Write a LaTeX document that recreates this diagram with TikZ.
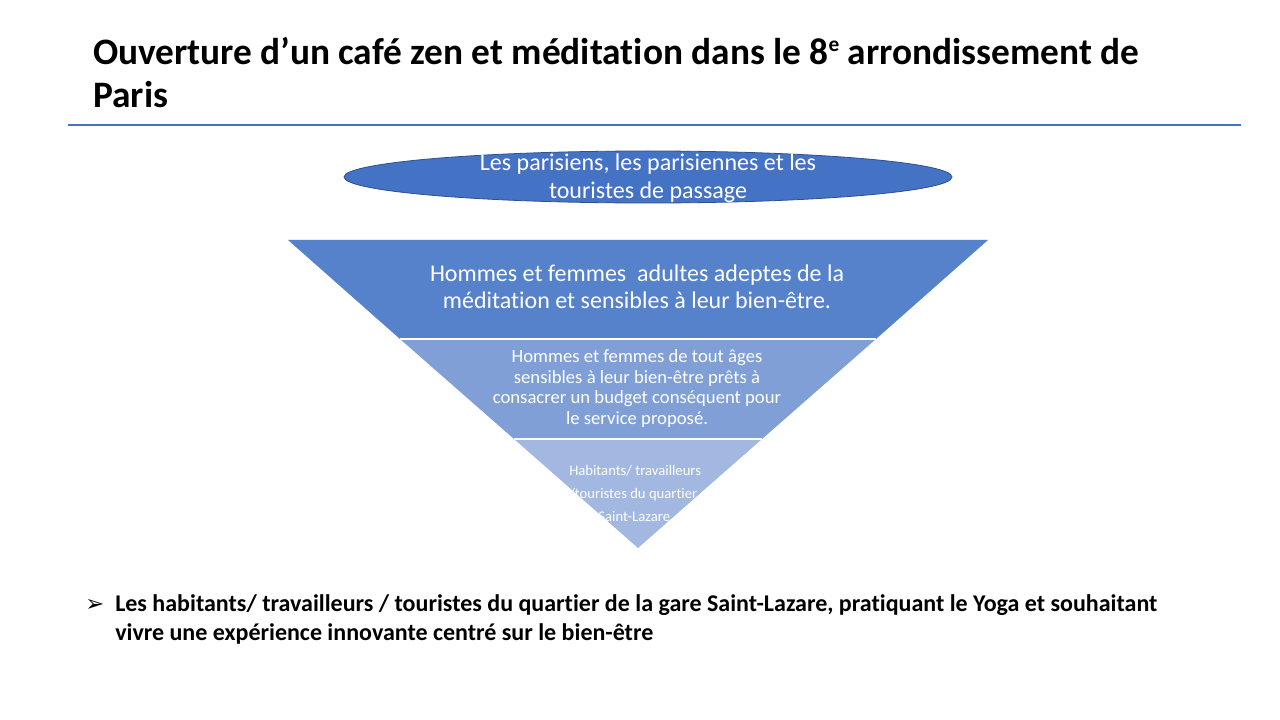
\documentclass[tikz,border=0pt]{standalone}
\usepackage{fontspec}
\usetikzlibrary{shapes.geometric}
\setmainfont[Ligatures=NoCommon]{Carlito}
\newfontfamily\dejavu{DejaVu Sans}
\definecolor{accent}{HTML}{4472C4}
\definecolor{accentdark}{HTML}{2F528F}
\definecolor{layerA}{HTML}{5681CB}
\definecolor{layerB}{HTML}{7F9FD6}
\definecolor{layerC}{HTML}{A2B8E1}
\newcommand{\mysup}[1]{\raisebox{10pt}{\fontsize{16}{16}\selectfont #1}}
\begin{document}
\begin{tikzpicture}[x=0.75pt,y=-0.75pt,
  titletext/.style={anchor=base west,inner sep=0pt,font=\fontsize{28}{32}\bfseries\selectfont},
  whitetext/.style={text=white,inner sep=0pt,align=center},
  bullettext/.style={anchor=base west,inner sep=0pt,font=\fontsize{18}{21}\bfseries\selectfont},
  layer/.style={draw=white,line width=1pt}]
\useasboundingbox[fill=white] (0,0) rectangle (1280,720);
% title
\node[titletext] (t1) at (93,65) {Ouverture d’un café zen et méditation dans le 8\mysup{e} arrondissement de};
\node[titletext] (t2) at (93,108) {Paris};
\coordinate (rl) at (68,125);
\coordinate (rr) at (1241,125);
\draw[accent,line width=1pt] (rl) -- (rr);
% ellipse
\node[ellipse,draw=accentdark,fill=accent,line width=0.6pt,minimum width=456pt,minimum height=39pt,inner sep=0pt] (ell) at (648,177) {};
\node[whitetext,anchor=base,font=\fontsize{18}{21}\selectfont] (ellt1) at (648,171) {Les parisiens, les parisiennes et les};
\node[whitetext,anchor=base,font=\fontsize{18}{21}\selectfont] (ellt2) at (648,199) {touristes de passage};
% funnel layers
\coordinate (a1) at (288,240); \coordinate (a2) at (988,240);
\coordinate (b1) at (400,339); \coordinate (b2) at (876,339);
\coordinate (c1) at (514,439); \coordinate (c2) at (762,439);
\coordinate (apex) at (638,548);
\fill[layerA] (a1) -- (a2) -- (b2) -- (b1) -- cycle;
\fill[layerB] (b1) -- (b2) -- (c2) -- (c1) -- cycle;
\fill[layerC] (c1) -- (c2) -- (apex) -- cycle;
\draw[layer] (b1) -- (b2);
\draw[layer] (c1) -- (c2);
% layer texts
\node[whitetext,anchor=base,font=\fontsize{18}{20}\selectfont] (l1a) at (637,281) {Hommes et femmes\ \ adultes adeptes de la};
\node[whitetext,anchor=base,font=\fontsize{18}{20}\selectfont] (l1b) at (637,308) {méditation et sensibles à leur bien-être.};
\node[whitetext,anchor=base,font=\fontsize{14}{15}\selectfont] (l2a) at (637,362) {Hommes et femmes de tout âges};
\node[whitetext,anchor=base,font=\fontsize{14}{15}\selectfont] (l2b) at (637,383) {sensibles à leur bien-être prêts à};
\node[whitetext,anchor=base,font=\fontsize{14}{15}\selectfont] (l2c) at (637,403) {consacrer un budget conséquent pour};
\node[whitetext,anchor=base,font=\fontsize{14}{15}\selectfont] (l2d) at (637,424) {le service proposé.};
\begin{scope}
\clip (c1) -- (c2) -- (apex) -- cycle;
\node[whitetext,anchor=base west,font=\fontsize{11}{13}\selectfont] (l3a) at (569,475) {Habitants/ travailleurs};
\node[whitetext,anchor=base west,font=\fontsize{11}{13}\selectfont] (l3b) at (569,498) {/touristes du quartier de la};
\node[whitetext,anchor=base west,font=\fontsize{11}{13}\selectfont] (l3c) at (569,521) {gare Saint-Lazare};
\end{scope}
% bullet
\node[anchor=base west,inner sep=0pt,font=\dejavu\fontsize{17}{19}\selectfont] (bul) at (85,611) {➢};
\node[bullettext] (b1t) at (115,611) {Les habitants/ travailleurs / touristes du quartier de la gare Saint-Lazare, pratiquant le Yoga et souhaitant};
\node[bullettext] (b2t) at (115,640) {vivre une expérience innovante centré sur le bien-être};
\end{tikzpicture}
\end{document}
